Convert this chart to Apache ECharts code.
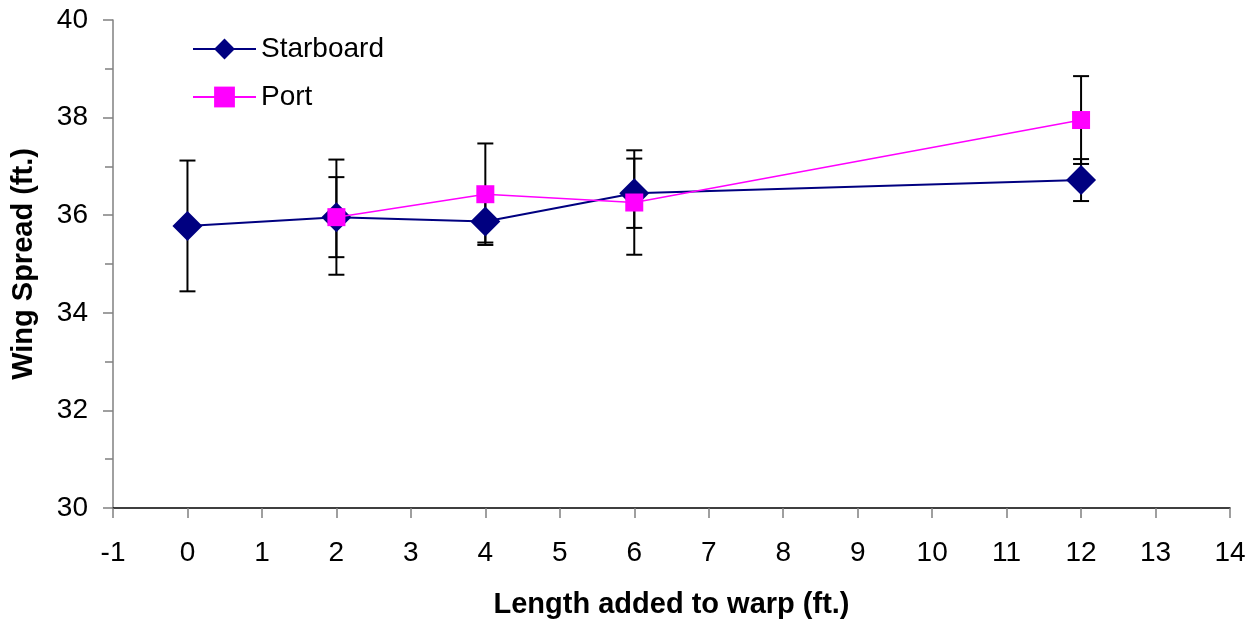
<!DOCTYPE html>
<html>
<head>
<meta charset="utf-8">
<script src="https://cdn.jsdelivr.net/npm/echarts@6/dist/echarts.min.js"></script>
<style>html,body{margin:0;padding:0;background:#fff;}#c{width:1251px;height:624px;}</style>
</head>
<body>
<div id="c"></div>
<script>
const starboardX = [0, 2, 4, 6, 12];
const starboardY = [35.78, 35.96, 35.87, 36.45, 36.72];
const starboardErr = [1.34, 1.18, 0.43, 0.71, 0.43];
const portX = [2, 4, 6, 12];
const portY = [35.96, 36.43, 36.26, 37.95];
const portErr = [0.82, 1.04, 1.07, 0.90];
const xTitle = 'Length added to warp (ft.)';
const yTitle = 'Wing Spread (ft.)';

const FONT = '"Liberation Sans", Arial, sans-serif';
const starData = starboardX.map((x, i) => [x, starboardY[i]]);
const portData = portX.map((x, i) => [x, portY[i]]);
const errData = starboardX.map((x, i) => [x, starboardY[i], starboardErr[i]])
  .concat(portX.map((x, i) => [x, portY[i], portErr[i]]));

function renderErr(params, api) {
  const x = api.value(0), y = api.value(1), e = api.value(2);
  const top = api.coord([x, y + e]);
  const bot = api.coord([x, y - e]);
  const hw = 8;
  const style = { stroke: '#000', lineWidth: 2 };
  return {
    type: 'group',
    children: [
      { type: 'line', shape: { x1: top[0], y1: top[1], x2: bot[0], y2: bot[1] }, style },
      { type: 'line', shape: { x1: top[0] - hw, y1: top[1], x2: top[0] + hw, y2: top[1] }, style },
      { type: 'line', shape: { x1: bot[0] - hw, y1: bot[1], x2: bot[0] + hw, y2: bot[1] }, style }
    ]
  };
}

const chart = echarts.init(document.getElementById('c'), null, { renderer: 'canvas' });
chart.setOption({
  animation: false,
  backgroundColor: '#fff',
  grid: { left: 113, right: 21, top: 20, bottom: 116, containLabel: false, outerBoundsMode: 'none' },
  legend: {
    orient: 'vertical',
    left: 187, top: 30,
    itemWidth: 63, itemHeight: 26, itemGap: 20,
    textStyle: { fontFamily: FONT, fontSize: 28, color: '#000', lineHeight: 26 },
    data: ['Starboard', 'Port']
  },
  xAxis: {
    type: 'value', min: -1, max: 14, interval: 1,
    name: xTitle, nameLocation: 'middle', nameGap: 82,
    nameTextStyle: { fontFamily: FONT, fontSize: 29, fontWeight: 'bold', color: '#000' },
    axisLine: { show: true, onZero: false, lineStyle: { color: '#000', width: 1.5 } },
    axisTick: { show: true, length: 10, lineStyle: { color: '#808080', width: 1.5 } },
    axisLabel: { fontFamily: FONT, fontSize: 28, color: '#000', margin: 31 },
    splitLine: { show: false }
  },
  yAxis: {
    type: 'value', min: 30, max: 40, interval: 2,
    name: yTitle, nameLocation: 'middle', nameGap: 75,
    nameTextStyle: { fontFamily: FONT, fontSize: 29, fontWeight: 'bold', color: '#000' },
    axisLine: { show: true, onZero: false, lineStyle: { color: '#808080', width: 1.5 } },
    axisTick: { show: true, length: 10, lineStyle: { color: '#808080', width: 1.5 } },
    minorTick: { show: true, splitNumber: 2, length: 8, lineStyle: { color: '#808080', width: 1.5 } },
    axisLabel: { fontFamily: FONT, fontSize: 28, color: '#000', margin: 25 },
    splitLine: { show: false }
  },
  series: [
    {
      type: 'custom', name: 'err', renderItem: renderErr, data: errData, z: 1,
      encode: { x: 0, y: [1] }, silent: true
    },
    {
      type: 'line', name: 'Starboard', data: starData, z: 3,
      symbol: 'diamond', symbolSize: [30, 30],
      lineStyle: { color: '#000080', width: 2 },
      itemStyle: { color: '#000080' }
    },
    {
      type: 'line', name: 'Port', data: portData, z: 4,
      symbol: 'rect', symbolSize: 18,
      lineStyle: { color: '#FF00FF', width: 1.5 },
      itemStyle: { color: '#FF00FF' }
    }
  ]
});
</script>
</body>
</html>
